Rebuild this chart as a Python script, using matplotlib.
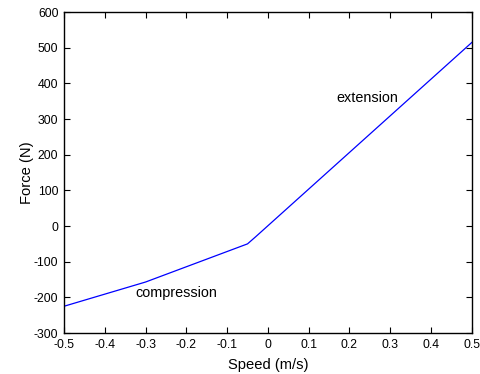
import matplotlib
matplotlib.use("Agg")
import matplotlib.pyplot as plt

plt.rcParams["font.family"] = ["Liberation Sans", "DejaVu Sans"]
plt.rcParams["axes.unicode_minus"] = False

speed = [-0.5, -0.3, -0.05, -0.03, 0.5]
force = [-225, -157, -50, -30, 515]

x_ticks = [-0.5, -0.4, -0.3, -0.2, -0.1, 0, 0.1, 0.2, 0.3, 0.4, 0.5]
x_labels = ["-0.5", "-0.4", "-0.3", "-0.2", "-0.1", "0", "0.1", "0.2", "0.3", "0.4", "0.5"]
y_ticks = [-300, -200, -100, 0, 100, 200, 300, 400, 500, 600]
y_labels = [str(v) for v in y_ticks]

fig = plt.figure(figsize=(4.81, 3.74), dpi=100)
ax = fig.add_axes([0.133, 0.1096, 0.848, 0.858])
ax.plot(speed, force, color="#0000ff", linewidth=0.9)

ax.set_xlim(-0.5, 0.5)
ax.set_ylim(-300, 600)
ax.set_xticks(x_ticks)
ax.set_xticklabels(x_labels)
ax.set_yticks(y_ticks)
ax.set_yticklabels(y_labels)
ax.tick_params(direction="in", top=True, right=True, length=4, width=0.8,
               labelsize=8.8, colors="black", pad=4)
for s in ax.spines.values():
    s.set_linewidth(1.0)

ax.set_xlabel("Speed (m/s)", fontsize=10.6, labelpad=5)
ax.set_ylabel("Force (N)", fontsize=10.6, labelpad=0)

ax.text(0.167, 360, "extension", fontsize=10.4, va="center", ha="left")
ax.text(-0.326, -187, "compression", fontsize=10.4, va="center", ha="left")

fig.savefig("out.png", dpi=100)
